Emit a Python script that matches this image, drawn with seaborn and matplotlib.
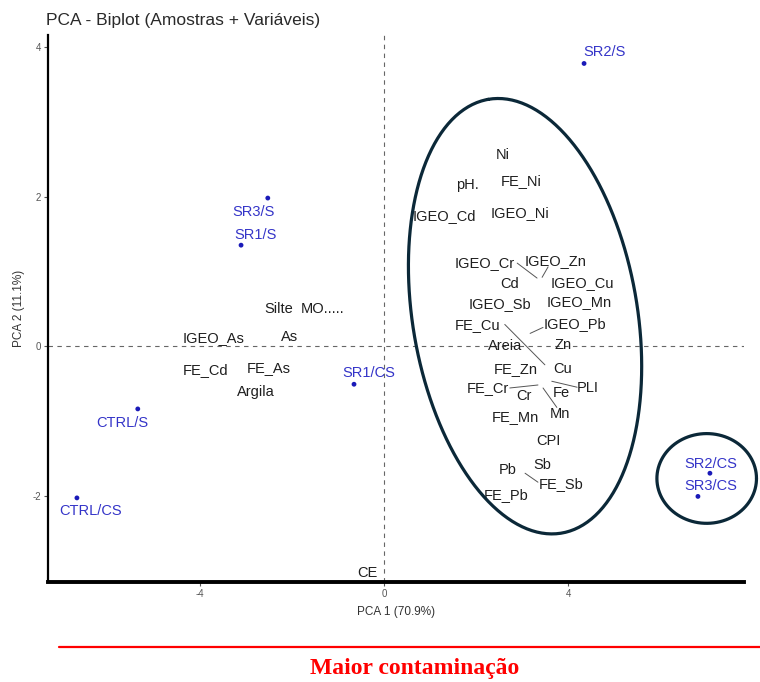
import numpy as np
import pandas as pd
import seaborn as sns
import matplotlib.pyplot as plt

# sample scores (PC1, PC2) and where their labels sit
sample_names = ['SR2/S', 'SR3/S', 'SR1/S', 'SR1/CS', 'CTRL/S', 'CTRL/CS', 'SR2/CS', 'SR3/CS']
sample_pc1 = [4.34, -2.52, -3.10, -0.65, -5.34, -6.66, 7.07, 6.81]
sample_pc2 = [3.78, 1.98, 1.35, -0.51, -0.84, -2.03, -1.70, -2.01]
sample_lab_x = [4.79, -2.84, -2.78, -0.33, -5.68, -6.36, 7.09, 7.09]
sample_lab_y = [3.93, 1.79, 1.48, -0.36, -1.03, -2.21, -1.58, -1.87]

# variable labels (repelled positions)
var_names = ['Ni', 'pH.', 'FE_Ni', 'IGEO_Cd', 'IGEO_Ni', 'IGEO_Cr', 'IGEO_Zn', 'Cd',
             'IGEO_Cu', 'IGEO_Sb', 'IGEO_Mn', 'FE_Cu', 'IGEO_Pb', 'Areia', 'Zn', 'Cu',
             'FE_Zn', 'FE_Cr', 'Cr', 'Fe', 'PLI', 'FE_Mn', 'Mn', 'CPI', 'Sb', 'Pb',
             'FE_Sb', 'FE_Pb', 'Silte', 'MO.....', 'IGEO_As', 'As', 'FE_Cd', 'FE_As',
             'Argila', 'CE']
var_x = [2.58, 1.80, 2.97, 1.30, 2.95, 2.19, 3.73, 2.73,
         4.30, 2.52, 4.23, 2.04, 4.14, 2.62, 3.88, 3.88,
         2.86, 2.26, 3.04, 3.84, 4.43, 2.86, 3.82, 3.56, 3.43, 2.69,
         3.84, 2.65, -2.28, -1.34, -3.69, -2.04, -3.86, -2.49,
         -2.78, -0.35]
var_y = [2.55, 2.15, 2.21, 1.74, 1.78, 1.11, 1.14, 0.83,
         0.84, 0.56, 0.59, 0.28, 0.29, 0.00, 0.01, -0.31,
         -0.31, -0.56, -0.67, -0.63, -0.56, -0.95, -0.91, -1.27, -1.59, -1.66,
         -1.84, -1.99, 0.49, 0.49, 0.11, 0.12, -0.32, -0.29,
         -0.61, -3.03]

# repel segments from label to point
seg_x0 = [2.89, 3.56, 2.62, 3.17, 2.73, 3.45, 3.64, 3.06]
seg_y0 = [1.11, 1.06, 0.29, 0.17, -0.56, -0.56, -0.47, -1.70]
seg_x1 = [3.32, 3.43, 3.49, 3.45, 3.34, 3.75, 4.19, 3.34]
seg_y1 = [0.91, 0.92, -0.25, 0.25, -0.52, -0.82, -0.55, -1.82]

# highlighted groups (centre, two semi-axis vectors)
groups_cx = [3.06, 7.00]
groups_cy = [0.40, -1.77]
groups_ux = [-0.80, 1.08]
groups_uy = [2.90, 0.0]
groups_vx = [2.40, 0.0]
groups_vy = [0.26, 0.60]

sns.set_theme(style='ticks')
plt.rcParams['font.family'] = ['Liberation Sans', 'DejaVu Sans']
plt.rcParams['axes.unicode_minus'] = False

fig = plt.figure(figsize=(7.6, 6.82), dpi=100)
ax = fig.add_axes([0.063, 0.1466, 0.916, 0.802])

df = pd.DataFrame({'PC1': sample_pc1, 'PC2': sample_pc2, 'amostra': sample_names})

ax.axhline(0, color='#666666', lw=0.8, ls=(0, (4, 4)), zorder=1)
ax.axvline(0, color='#666666', lw=0.8, ls=(0, (4, 4)), zorder=1)

sns.scatterplot(data=df, x='PC1', y='PC2', color='#1a1ab8', s=12, edgecolor='none',
                ax=ax, zorder=3, legend=False)

for n, x, y in zip(sample_names, sample_lab_x, sample_lab_y):
    ax.text(x, y, n, color='#3434c8', fontsize=10.5, ha='center', va='center')

for n, x, y in zip(var_names, var_x, var_y):
    ax.text(x, y, n, color='#1e1e1e', fontsize=10.5, ha='center', va='center')

for x0, y0, x1, y1 in zip(seg_x0, seg_y0, seg_x1, seg_y1):
    ax.plot([x0, x1], [y0, y1], color='#555555', lw=0.7)

t = np.linspace(0, 2 * np.pi, 300)
for cx, cy, ux, uy, vx, vy in zip(groups_cx, groups_cy, groups_ux, groups_uy, groups_vx, groups_vy):
    ax.plot(cx + ux * np.cos(t) + vx * np.sin(t), cy + uy * np.cos(t) + vy * np.sin(t),
            color='#0b2838', lw=2.3, clip_on=False, zorder=4)

ax.set_xlim(-7.29, 7.81)
ax.set_ylim(-3.155, 4.16)
ax.set_xticks([-4, 0, 4])
ax.set_yticks([-2, 0, 2, 4])
ax.tick_params(labelsize=7, colors='#555555', length=3, width=0.8, pad=2)
sns.despine(ax=ax)
ax.spines['left'].set_linewidth(1.6)
ax.spines['bottom'].set_linewidth(2.8)
ax.spines['left'].set_color('black')
ax.spines['bottom'].set_color('black')

ax.set_xlabel('PCA 1 (70.9%)', fontsize=8.5, color='#333333', labelpad=5)
ax.set_ylabel('PCA 2 (11.1%)', fontsize=8.5, color='#333333', labelpad=5)

fig.text(0.061, 0.970, 'PCA - Biplot (Amostras + Variáveis)', fontsize=12.5,
         color='#2a2a2a', ha='left', va='center')

fig.add_artist(plt.Line2D([0.078, 1.0], [0.0513, 0.0513], color='red', lw=1.6))
fig.text(0.546, 0.020, 'Maior contaminação', fontsize=17, color='red', fontweight='bold',
         family='Liberation Serif', ha='center', va='center')

fig.savefig('out.png', dpi=100)
